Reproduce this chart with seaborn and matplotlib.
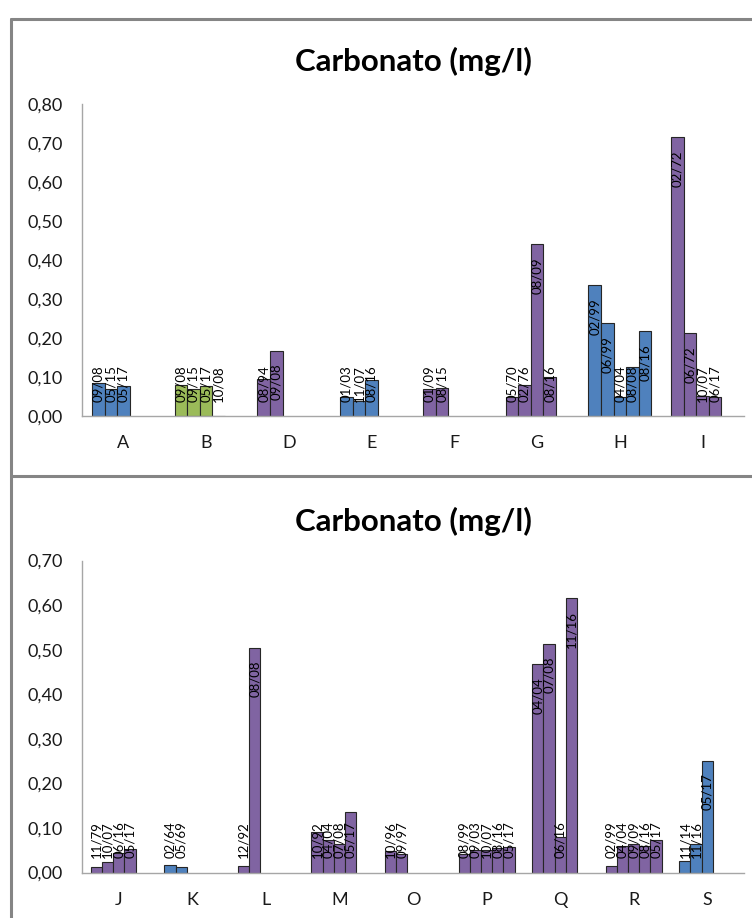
import pandas as pd
import seaborn as sns
import matplotlib
matplotlib.use("Agg")
import matplotlib.pyplot as plt
from matplotlib.lines import Line2D

sns.set_theme(style="white")
plt.rcParams['font.family'] = ['Lato', 'DejaVu Sans']

AZUL = "#4F81BD"
VERDE = "#9BBB59"
ROXO = "#8064A2"

# ---- painel superior ----
pontos_sup = ["A", "B", "D", "E", "F", "G", "H", "I"]
cores_sup = [AZUL, VERDE, ROXO, AZUL, ROXO, ROXO, AZUL, ROXO]
datas_sup = [
    ["09/08", "05/15", "05/17"],
    ["09/08", "09/15", "05/17", "10/08"],
    ["08/94", "09/08"],
    ["01/03", "11/07", "08/16"],
    ["01/09", "08/15"],
    ["05/70", "02/76", "08/09", "08/16"],
    ["02/99", "06/99", "04/04", "08/08", "08/16"],
    ["02/72", "06/72", "10/07", "06/17"],
]
valores_sup = [
    [0.084, 0.069, 0.076],
    [0.079, 0.069, 0.077, 0.0],
    [0.095, 0.167],
    [0.048, 0.039, 0.092],
    [0.069, 0.072],
    [0.048, 0.079, 0.440, 0.100],
    [0.336, 0.238, 0.050, 0.126, 0.217],
    [0.715, 0.212, 0.052, 0.048],
]
yticks_sup = [0.0, 0.1, 0.2, 0.3, 0.4, 0.5, 0.6, 0.7, 0.8]

# ---- painel inferior ----
pontos_inf = ["J", "K", "L", "M", "O", "P", "Q", "R", "S"]
cores_inf = [ROXO, AZUL, ROXO, ROXO, ROXO, ROXO, ROXO, ROXO, AZUL]
datas_inf = [
    ["11/79", "10/07", "06/16", "05/17"],
    ["02/64", "05/69"],
    ["12/92", "08/08"],
    ["10/92", "04/04", "07/08", "05/17"],
    ["10/96", "09/97"],
    ["08/99", "09/03", "10/07", "08/16", "05/17"],
    ["04/04", "07/08", "06/16", "11/16"],
    ["02/99", "04/04", "09/09", "08/16", "05/17"],
    ["11/14", "11/16", "05/17"],
]
valores_inf = [
    [0.013, 0.024, 0.043, 0.052],
    [0.016, 0.013],
    [0.015, 0.504],
    [0.090, 0.073, 0.065, 0.135],
    [0.048, 0.041],
    [0.041, 0.050, 0.050, 0.055, 0.058],
    [0.468, 0.513, 0.080, 0.615],
    [0.015, 0.059, 0.065, 0.060, 0.074],
    [0.026, 0.063, 0.251],
]
yticks_inf = [0.0, 0.1, 0.2, 0.3, 0.4, 0.5, 0.6, 0.7]

TITULO = "Carbonato (mg/l)"
N_SLOTS = 5
LARGURA = 0.76

W, H = 752, 918
fig = plt.figure(figsize=(W / 100, H / 100), dpi=100)


def tabela(pontos, datas, valores):
    linhas = []
    for p, ds, vs in zip(pontos, datas, valores):
        for i, (d, v) in enumerate(zip(ds, vs)):
            linhas.append({"ponto": p, "slot": i, "data": d, "valor": v})
    return pd.DataFrame(linhas)


def painel(rect_px, pontos, cores, datas, valores, yticks):
    x0, ytop, x1, ybot = rect_px
    ax = fig.add_axes([x0 / W, 1 - ybot / H, (x1 - x0) / W, (ybot - ytop) / H])
    df = tabela(pontos, datas, valores)
    sns.barplot(data=df, x="ponto", y="valor", hue="slot",
                order=pontos, hue_order=list(range(N_SLOTS)),
                palette=[ROXO] * N_SLOTS, dodge=True, width=LARGURA,
                edgecolor="#262626", linewidth=0.8, saturation=1,
                legend=False, ax=ax)
    ymax = yticks[-1]
    ax.set_ylim(0, ymax)
    ax.set_xlim(-0.5, len(pontos) - 0.5)
    ax.set_yticks(yticks)
    ax.set_yticklabels([f"{t:.2f}".replace(".", ",") for t in yticks])
    ax.set_xlabel("")
    ax.set_ylabel("")
    ax.tick_params(axis="both", length=0, labelsize=13, colors="#1a1a1a")
    ax.tick_params(axis="y", pad=14)
    ax.tick_params(axis="x", pad=14)
    for s in ["top", "right"]:
        ax.spines[s].set_visible(False)
    for s in ["left", "bottom"]:
        ax.spines[s].set_color("#a6a6a6")
        ax.spines[s].set_linewidth(1.0)
    ax.grid(False)

    ppu = (ybot - ytop) / ymax  # pixels per data unit
    pad_px, base_px = 13, 14
    fig.canvas.draw()
    renderer = fig.canvas.get_renderer()
    slot_w = LARGURA / N_SLOTS
    for p in ax.patches:
        w = p.get_width()
        if w <= 0:
            continue
        cx = p.get_x() + w / 2
        cat = int(round(cx))
        slot = int(round((p.get_x() - (cat - LARGURA / 2)) / slot_w))
        if cat >= len(pontos) or slot >= len(datas[cat]):
            continue
        p.set_facecolor(cores[cat])
        h = p.get_height()
        t = ax.text(cx, h, datas[cat][slot], rotation=90, ha="center",
                    va="bottom", fontsize=9.5, color="#000000")
        ext = t.get_window_extent(renderer)
        comp = ext.height
        y_bot_px = max(h * ppu - pad_px - comp, base_px)
        t.set_y(y_bot_px / ppu)
    return ax


painel((82, 104, 744, 416), pontos_sup, cores_sup, datas_sup, valores_sup, yticks_sup)
painel((82, 560.5, 744, 872.5), pontos_inf, cores_inf, datas_inf, valores_inf, yticks_inf)

fig.text(413 / W, 1 - 61 / H, TITULO, ha="center", va="center",
         fontsize=22.5, fontweight="bold", color="#000000")
fig.text(413 / W, 1 - 521 / H, TITULO, ha="center", va="center",
         fontsize=22.5, fontweight="bold", color="#000000")

# molduras dos dois quadros
borda = dict(color="#858585", linewidth=2.2, transform=fig.transFigure)
fig.add_artist(Line2D([11 / W, 1], [1 - 19 / H, 1 - 19 / H], **borda))
fig.add_artist(Line2D([11 / W, 11 / W], [0, 1 - 19 / H], **borda))
fig.add_artist(Line2D([11 / W, 1], [1 - 476 / H, 1 - 476 / H], **borda))

fig.savefig("out.png", dpi=100)
